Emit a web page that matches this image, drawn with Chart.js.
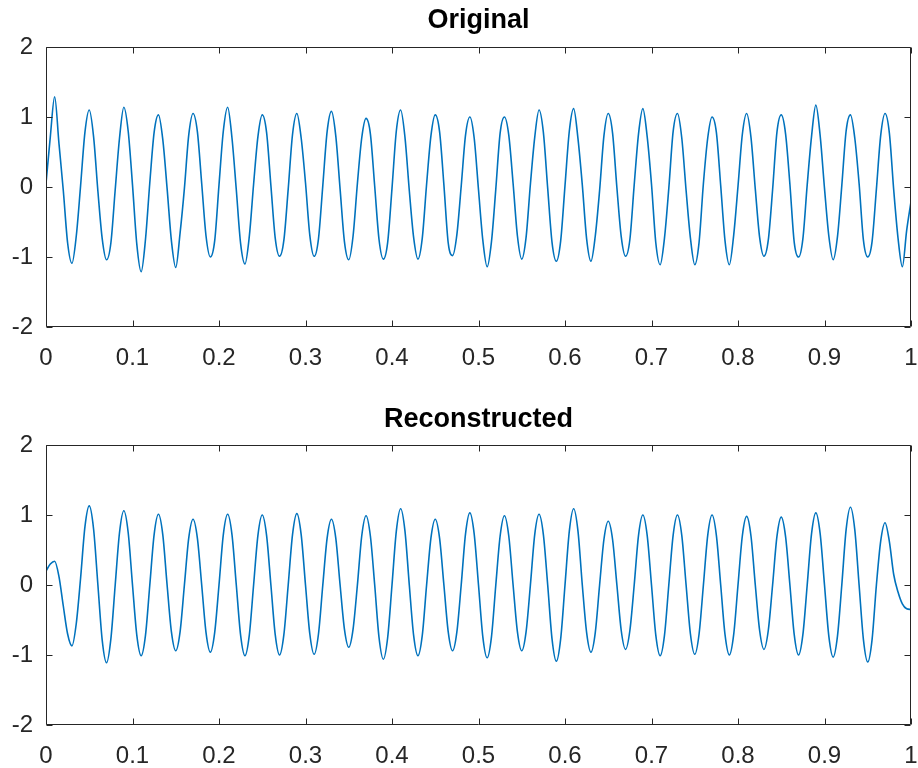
<!DOCTYPE html>
<html>
<head>
<meta charset="utf-8">
<script src="https://cdn.jsdelivr.net/npm/chart.js@4.4.0/dist/chart.umd.min.js"></script>
<style>
  html, body { margin: 0; padding: 0; background: #fff; overflow: hidden; }
  .panel { position: absolute; left: 0; width: 940px; height: 384px; }
  #topPanel { top: 0; }
  #bottomPanel { top: 384px; }
</style>
</head>
<body>
<div class="panel" id="topPanel"><canvas id="origChart"></canvas></div>
<div class="panel" id="bottomPanel"><canvas id="reconChart"></canvas></div>
<script>
// titles
const titles = ['Original', 'Reconstructed'];

// axis ticks
const xTicks = [0, 0.1, 0.2, 0.3, 0.4, 0.5, 0.6, 0.7, 0.8, 0.9, 1];
const xTickLabels = ['0', '0.1', '0.2', '0.3', '0.4', '0.5', '0.6', '0.7', '0.8', '0.9', '1'];
const yTicks = [-2, -1, 0, 1, 2];
const yTickLabels = ['-2', '-1', '0', '1', '2'];

const origStep = 0.005;
const origValues = [
  0.05, 0.72, 1.29, 0.62, -0.05, -0.8, -1.09, -0.7,
  0.02, 0.78, 1.1, 0.72, -0.06, -0.74, -1.04, -0.8,
  -0.04, 0.7, 1.14, 0.8, 0.03, -0.82, -1.21, -0.75,
  0.06, 0.78, 1.03, 0.68, -0.02, -0.77, -1.15, -0.66,
  -0.02, 0.74, 1.05, 0.79, 0.05, -0.7, -1.0, -0.77,
  0.03, 0.8, 1.14, 0.7, -0.04, -0.81, -1.1, -0.71,
  0.04, 0.72, 1.03, 0.78, 0.02, -0.73, -0.99, -0.76,
  -0.03, 0.75, 1.05, 0.7, 0.06, -0.69, -0.99, -0.74,
  0.02, 0.79, 1.08, 0.73, -0.03, -0.78, -1.04, -0.7,
  0.05, 0.7, 0.98, 0.76, 0.01, -0.75, -1.03, -0.79,
  -0.02, 0.8, 1.1, 0.71, -0.05, -0.72, -1.03, -0.73,
  0.04, 0.73, 1.03, 0.79, 0.03, -0.8, -0.98, -0.68,
  0.01, 0.74, 1.0, 0.7, -0.04, -0.76, -1.14, -0.78,
  -0.03, 0.77, 1.0, 0.74, 0.05, -0.7, -1.03, -0.72,
  0.04, 0.71, 1.1, 0.78, -0.02, -0.79, -1.06, -0.77,
  0.02, 0.8, 1.12, 0.69, 0.03, -0.74, -1.06, -0.7,
  -0.05, 0.73, 1.05, 0.77, -0.01, -0.71, -0.99, -0.75,
  0.03, 0.76, 1.12, 0.72, 0.04, -0.8, -1.11, -0.73,
  -0.02, 0.79, 1.05, 0.7, -0.05, -0.73, -1.11, -0.79,
  0.05, 0.7, 1.0, 0.78, 0.02, -0.77, -1.11, -0.69,
  0.01, 0.75, 1.05, 0.71, -0.03, -0.72, -0.99, -0.76,
  -0.04, 0.78, 1.03, 0.76, 0.04, -0.79, -1.0, -0.74,
  0.03, 0.72, 1.17, 0.73, -0.02, -0.7, -1.04, -0.71,
  0.02, 0.8, 1.03, 0.7, 0.05, -0.76, -1.0, -0.78,
  -0.03, 0.74, 1.05, 0.77, -0.04, -0.73, -1.14, -0.62,
  -0.21
];

const reconStep = 0.005;
const reconValues = [
  0.2, 0.3, 0.34, 0.12, -0.3, -0.7, -0.87, -0.55,
  0.1, 0.83, 1.13, 0.8, 0.0, -0.79, -1.11, -0.77,
  0.0, 0.75, 1.06, 0.75, 0.0, -0.72, -1.01, -0.72,
  0.0, 0.72, 1.01, 0.72, 0.0, -0.67, -0.94, -0.67,
  0.0, 0.67, 0.94, 0.67, 0.0, -0.68, -0.96, -0.68,
  0.0, 0.72, 1.01, 0.72, 0.0, -0.72, -1.01, -0.72,
  0.0, 0.71, 1.0, 0.71, 0.0, -0.71, -1.0, -0.71,
  0.0, 0.72, 1.02, 0.72, 0.0, -0.7, -0.99, -0.7,
  0.0, 0.67, 0.94, 0.67, 0.0, -0.63, -0.89, -0.63,
  0.0, 0.7, 0.99, 0.7, 0.0, -0.75, -1.06, -0.75,
  0.0, 0.77, 1.09, 0.77, 0.0, -0.72, -1.01, -0.72,
  0.0, 0.67, 0.94, 0.67, 0.0, -0.67, -0.94, -0.67,
  0.0, 0.73, 1.03, 0.73, 0.0, -0.74, -1.04, -0.74,
  0.0, 0.7, 0.99, 0.7, 0.0, -0.67, -0.94, -0.67,
  0.0, 0.72, 1.01, 0.72, 0.0, -0.77, -1.09, -0.77,
  0.0, 0.77, 1.09, 0.77, 0.0, -0.68, -0.96, -0.68,
  0.0, 0.65, 0.91, 0.65, 0.0, -0.65, -0.92, -0.65,
  0.0, 0.71, 1.0, 0.71, 0.0, -0.72, -1.01, -0.72,
  0.0, 0.71, 1.0, 0.71, 0.0, -0.7, -0.99, -0.7,
  0.0, 0.71, 1.0, 0.71, 0.0, -0.71, -1.0, -0.71,
  0.0, 0.7, 0.98, 0.7, 0.0, -0.65, -0.92, -0.65,
  0.0, 0.69, 0.97, 0.69, 0.0, -0.71, -1.0, -0.71,
  0.0, 0.73, 1.03, 0.73, 0.0, -0.73, -1.03, -0.73,
  0.0, 0.79, 1.11, 0.79, 0.0, -0.78, -1.1, -0.78,
  0.0, 0.63, 0.89, 0.62, 0.15, -0.1, -0.27, -0.34,
  -0.35
];

const lineColor = '#0072bd';
const axisColor = '#262626';
const fontFamily = "'Liberation Sans', Arial, Helvetica, sans-serif";

// box around the axes with inward ticks on all four sides
const matlabBox = {
  id: 'matlabBox',
  afterDatasetsDraw(chart) {
    const {ctx, chartArea: a, scales: {x, y}} = chart;
    const l = Math.round(a.left) + 0.5, r = Math.round(a.right) - 0.5;
    const t = Math.round(a.top) + 0.5, b = Math.round(a.bottom) - 0.5;
    const len = 6;
    ctx.save();
    ctx.strokeStyle = axisColor;
    ctx.lineWidth = 1;
    ctx.beginPath();
    ctx.rect(l, t, r - l, b - t);
    xTicks.forEach(v => {
      const px = Math.round(x.getPixelForValue(v)) + 0.5;
      ctx.moveTo(px, b); ctx.lineTo(px, b - len);
      ctx.moveTo(px, t); ctx.lineTo(px, t + len);
    });
    yTicks.forEach(v => {
      const py = Math.round(y.getPixelForValue(v)) + 0.5;
      ctx.moveTo(l, py); ctx.lineTo(l + len, py);
      ctx.moveTo(r, py); ctx.lineTo(r - len, py);
    });
    ctx.stroke();
    ctx.restore();
  }
};

function makeChart(id, title, step, values, titlePad, xAxisHeight) {
  const points = values.map((v, i) => ({x: i * step, y: v}));
  return new Chart(document.getElementById(id), {
    type: 'line',
    data: {
      datasets: [{
        data: points,
        borderColor: lineColor,
        borderWidth: 1.6,
        pointRadius: 0,
        cubicInterpolationMode: 'monotone',
        fill: false
      }]
    },
    options: {
      responsive: true,
      maintainAspectRatio: false,
      animation: false,
      // canvas is 940 wide, plot box ends at x = 911
      layout: {padding: {left: 0, right: 29, top: 0, bottom: 0}},
      plugins: {
        legend: {display: false},
        tooltip: {enabled: false},
        title: {
          display: true,
          text: title,
          fullSize: false,
          color: '#000',
          font: {family: fontFamily, size: 27, weight: 'bold', lineHeight: 1.2},
          padding: titlePad
        }
      },
      scales: {
        x: {
          type: 'linear',
          min: 0,
          max: 1,
          grid: {display: false, drawTicks: false},
          border: {display: false},
          afterBuildTicks: s => { s.ticks = xTicks.map(v => ({value: v})); },
          afterFit: s => { s.height = xAxisHeight; },
          ticks: {
            autoSkip: false,
            maxRotation: 0,
            padding: 17,
            color: axisColor,
            font: {family: fontFamily, size: 24},
            callback: (v, i) => xTickLabels[i]
          }
        },
        y: {
          min: -2,
          max: 2,
          grid: {display: false, drawTicks: false},
          border: {display: false},
          afterBuildTicks: s => { s.ticks = yTicks.map(v => ({value: v})); },
          afterFit: s => { s.width = 46; },
          ticks: {
            padding: 13,
            color: axisColor,
            font: {family: fontFamily, size: 24},
            callback: (v, i) => yTickLabels[i]
          }
        }
      }
    },
    plugins: [matlabBox]
  });
}

makeChart('origChart', titles[0], origStep, origValues, {top: 4, bottom: 10.6}, 57);
makeChart('reconChart', titles[1], reconStep, reconValues, {top: 19.8, bottom: 8.8}, 43);
</script>
</body>
</html>
